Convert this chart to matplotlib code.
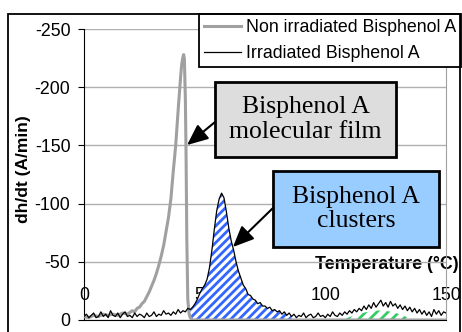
import numpy as np
import matplotlib
matplotlib.use("Agg")
from matplotlib import pyplot as plt
from matplotlib.patches import Rectangle

plt.rcParams['font.family'] = ['Liberation Sans', 'DejaVu Sans']
plt.rcParams['axes.unicode_minus'] = False
plt.rcParams['hatch.linewidth'] = 2.0

# non irradiated sample (grey trace)
grey_temp = [0, 2, 4, 6, 8, 10, 12, 14, 16, 18,
             20, 21, 22, 23, 24, 25, 26, 27, 28, 29, 30, 31, 32, 33, 34, 35, 36, 37, 38, 39, 40,
             40.5, 41, 41.3, 41.6, 42, 42.3, 42.6, 43, 43.5, 44, 45, 150]
grey_dhdt = [-3, -2, -4, -3, -5, -4, -5, -4, -6, -5,
             -8, -7, -10, -11, -14, -16, -20, -24, -29, -34, -40, -47, -55, -64, -76, -88, -104, -128, -150, -180, -208,
             -220, -226, -228, -224, -190, -140, -70, -18, -6, -2, 0, 0]

# irradiated sample, one reading per degree from 0 to 150 C
irr_temp = np.arange(0, 151)
irr_dhdt = np.array(
    [-3, -5, -2, -4, -6, -2, -3, -7, -3, -5, -2, -8, -4, -3, -6, -2, -5, -7, -3, -4,
     -2, -6, -3, -5, -4, -2, -6, -3, -4, -7, -3, -5, -4, -8, -5, -6, -4, -7, -5, -9,
     -6, -8, -7, -10, -9,
     -11, -14, -18, -23, -27, -30, -35, -45, -60, -78, -94, -104, -109, -105, -93,
     -79, -68, -60, -50, -42, -36, -30, -27, -22, -21, -18, -17, -14, -15, -12, -12,
     -10, -11, -8, -9, -7, -8, -5, -7, -4, -6, -3,
     -5, -2, -4, -3, -6, -2, -4, -5, -2, -3, -6, -3, -4, -2, -5, -3, -7, -4,
     -3, -6, -4, -7, -5, -8, -6, -9, -7, -10, -8, -12, -9, -13, -10, -15, -11, -14,
     -17, -12, -15, -11, -16, -12, -14, -10, -13, -9, -12, -8, -11, -7, -10, -6, -9, -5,
     -8, -4, -7, -3, -9, -5, -8, -4, -7, -6])

# cluster peak integration window
cluster_lo, cluster_hi = 44, 86

# second (high temperature) contribution
green_temp = [107, 110, 113, 116, 119, 122, 125, 128, 131, 134, 136.5]
green_dhdt = [0, -2.5, -4.5, -6.3, -7.6, -8.2, -7.9, -6.8, -4.8, -2.3, 0]

x_ticks = [0, 50, 100, 150]
y_ticks = [0, -50, -100, -150, -200, -250]

fig = plt.figure(figsize=(4.62, 3.32), dpi=100)
ax = fig.add_axes([84/462, 12/332, 362/462, 291/332])

ax.fill_between(irr_temp, irr_dhdt, 0,
                where=(irr_temp >= cluster_lo) & (irr_temp <= cluster_hi),
                facecolor='white', edgecolor='#3366ff', hatch='////', linewidth=0, zorder=3)
ax.fill_between(green_temp, green_dhdt, 0,
                facecolor='white', edgecolor='#33cc66', hatch='///', linewidth=0, zorder=3)
ax.plot(grey_temp, grey_dhdt, color='#a0a0a0', lw=2.2, zorder=4,
        label='Non irradiated Bisphenol A')
ax.plot(irr_temp, irr_dhdt, color='black', lw=0.9, zorder=5,
        label='Irradiated Bisphenol A')

ax.set_xlim(0, 150)
ax.set_ylim(0, -250)
ax.set_xticks(x_ticks)
ax.set_yticks(y_ticks)
ax.tick_params(axis='x', length=0, pad=-24, labelsize=12.8)
ax.tick_params(axis='y', length=4.3, pad=5.5, labelsize=12.8)
ax.yaxis.grid(True, color='#b0b0b0', lw=1)
ax.set_axisbelow(True)

ax.spines['top'].set_visible(False)
ax.spines['right'].set_color('#a0a0a0')
ax.spines['left'].set_color('black')
ax.spines['bottom'].set_color('black')

ax.set_ylabel('dh/dt (A/min)', fontsize=12.5, fontweight='bold', va='center')
ax.yaxis.set_label_coords(-0.166, 0.519)
ax.set_xlabel('Temperature (°C)', fontsize=12.8, fontweight='bold', ha='right', va='center',
              bbox=dict(facecolor='white', edgecolor='none', pad=0))
ax.xaxis.set_label_coords(1.036, 0.192)

# callout boxes
serif = ['Liberation Serif', 'DejaVu Serif']
head = '-|>,head_length=0.8,head_width=0.35'
ax.add_patch(Rectangle((54.3, -140.0), 75.0, -64.5, facecolor='#dddddd',
                       edgecolor='black', lw=2, zorder=6))
ax.text(91.8, -172.2, 'Bisphenol A\nmolecular film', family=serif, fontsize=18.5,
        ha='center', va='center', linespacing=1.15, zorder=7)
ax.annotate('', xy=(42.7, -150.3), xytext=(54.3, -170.1),
            arrowprops=dict(arrowstyle=head, mutation_scale=16, color='black', lw=1.5,
                            shrinkA=0, shrinkB=0), zorder=7)

ax.add_patch(Rectangle((78.3, -62.7), 68.8, -65.3, facecolor='#99ccff',
                       edgecolor='black', lw=2, zorder=6))
ax.text(112.7, -95.4, 'Bisphenol A\nclusters', family=serif, fontsize=18.5,
        ha='center', va='center', linespacing=1.15, zorder=7)
ax.annotate('', xy=(61.7, -62.7), xytext=(78.3, -96.2),
            arrowprops=dict(arrowstyle=head, mutation_scale=16, color='black', lw=1.5,
                            shrinkA=0, shrinkB=0), zorder=7)

leg = ax.legend(loc='upper left', bbox_to_anchor=(199/462, 258/332, 262/462, 60/332),
                bbox_transform=fig.transFigure, mode='expand', borderaxespad=0,
                fontsize=12.8, frameon=True, fancybox=False, framealpha=1,
                edgecolor='black', handlelength=2.1, handletextpad=0.3,
                borderpad=0.27, labelspacing=0.54)
leg.get_frame().set_linewidth(1.3)
leg.set_zorder(10)

# chart area border
fig.patches.append(Rectangle((8/462, -0.05), 452/462, 0.05 + 318/332, fill=False,
                             edgecolor='black', lw=1.3, transform=fig.transFigure))

fig.savefig('out.png', dpi=100)
